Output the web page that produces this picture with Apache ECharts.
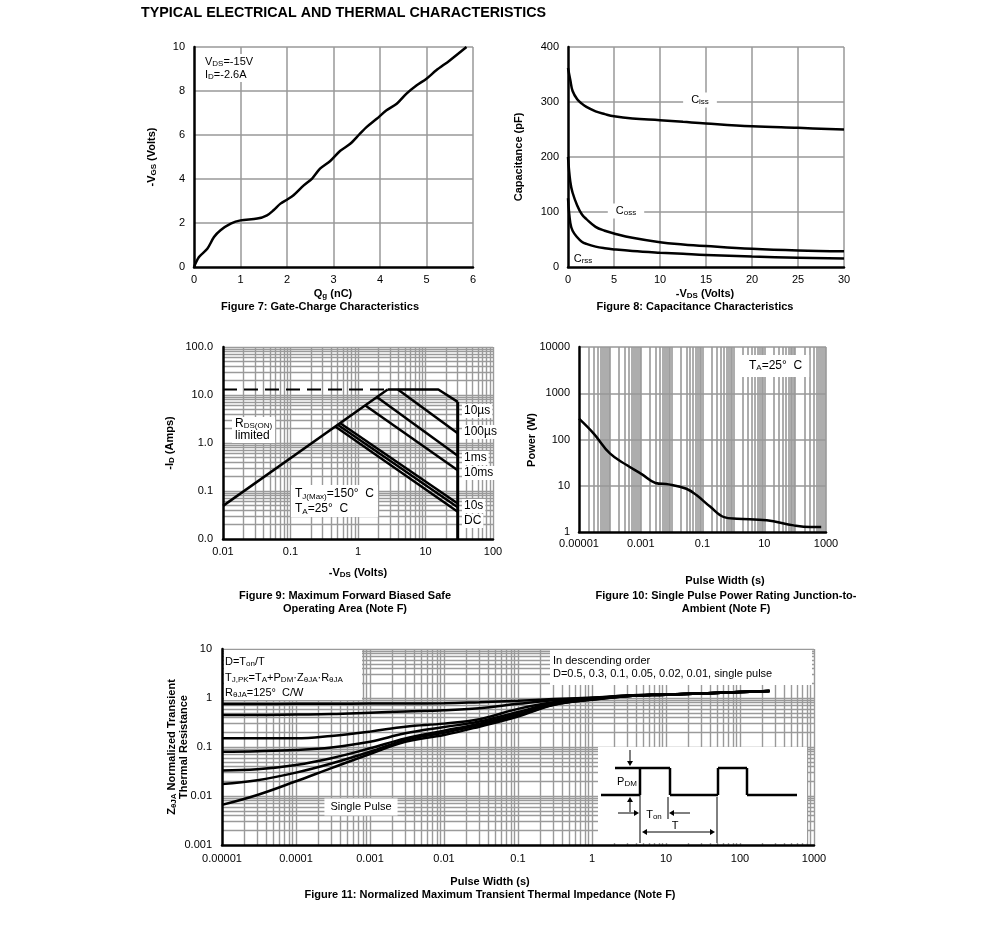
<!DOCTYPE html>
<html><head><meta charset="utf-8">
<script src="https://cdn.jsdelivr.net/npm/echarts@6/dist/echarts.min.js"></script>
<style>html,body{margin:0;padding:0;background:#fff}#c{width:991px;height:933px}</style>
</head><body><div id="c"></div>
<script>
// ---------- Figure 7: gate charge ----------
const fig7Qg = [0,0.107,0.286,0.43,0.57,0.79,1.0,1.36,1.57,1.71,1.86,2.0,2.14,2.36,2.54,2.71,2.93,3.14,3.36,3.57,3.71,3.93,4.14,4.36,4.57,4.79,5.0,5.21,5.5,5.86];
const fig7Vgs = [0,0.45,0.83,1.36,1.67,1.97,2.12,2.2,2.35,2.58,2.88,3.06,3.26,3.71,4.02,4.47,4.82,5.27,5.6,6.06,6.36,6.74,7.12,7.42,7.88,8.26,8.56,8.94,9.39,10];
// ---------- Figure 8: capacitance ----------
const fig8Vds  = [0,0.25,0.5,1,1.5,2,3,4,5,7,10,12.5,15,20,25,30];
const fig8Ciss = [362,340,320,305,297,291,283,278,274,270,267,264,261,256,253,250];
const fig8Coss = [200,155,135,112,96,87,73,66,61,53,45,41,38,33,30,28.5];
const fig8Crss = [125,80,66,54,46,42,37,34,32,29,26,24,22,19,17,15.5];
// ---------- Figure 9: SOA ----------
const fig9Rds     = [[0.01,0.049],[2.75,13]];
const fig9Dashed  = [[0.01,13],[2.75,13]];
const fig9_10us   = [[2.75,13],[15.5,13],[30,7.2]];
const fig9_100us  = [[3.9,13],[30,1.6]];
const fig9_1ms    = [[1.9,9.1],[30,0.54]];
const fig9_10ms   = [[1.27,6.1],[30,0.27]];
const fig9_1s     = [[0.54,2.6],[30,0.055]];
const fig9_10s    = [[0.5,2.4],[30,0.046]];
const fig9_DC     = [[0.46,2.2],[30,0.037]];
const fig9Vmax    = [[30,7.2],[30,0.01]];
const fig9XLabels = ['0.01','0.1','1','10','100'];
const fig9YLabels = ['0.0','0.1','1.0','10.0','100.0'];
// ---------- Figure 10: single pulse power ----------
const fig10T = [1e-5,3e-5,1e-4,3.5e-4,1.1e-3,3e-3,8e-3,0.03,0.065,0.18,0.5,1.3,12,90,300,700];
const fig10P = [282,134,50,28,17.6,11.5,10.7,8.6,6.2,3.5,2.1,1.94,1.79,1.39,1.28,1.28];
const fig10XLabels = ['0.00001','','0.001','','0.1','','10','','1000'];
const fig10YLabels = ['1','10','100','1000','10000'];
// ---------- Figure 11: transient thermal impedance ----------
const fig11T = [1e-5,3e-5,1e-4,3e-4,1e-3,3e-3,1e-2,3e-2,0.1,0.3,1,3,10,30,100,250];
const fig11D05  = [0.755,0.755,0.76,0.765,0.77,0.775,0.78,0.82,0.88,0.95,1.02,1.12,1.18,1.24,1.32,1.39];
const fig11D03  = [0.45,0.45,0.46,0.47,0.5,0.53,0.56,0.62,0.76,0.9,1.0,1.12,1.18,1.24,1.32,1.39];
const fig11D01  = [0.15,0.15,0.15,0.168,0.206,0.26,0.3,0.37,0.6,0.82,0.97,1.11,1.18,1.24,1.32,1.39];
const fig11D005 = [0.08,0.082,0.087,0.098,0.128,0.19,0.255,0.33,0.52,0.78,0.95,1.1,1.17,1.24,1.32,1.39];
const fig11D002 = [0.033,0.035,0.043,0.059,0.094,0.15,0.215,0.3,0.47,0.75,0.94,1.1,1.17,1.24,1.32,1.39];
const fig11D001 = [0.0176,0.021,0.03,0.046,0.08,0.14,0.196,0.28,0.44,0.73,0.93,1.09,1.17,1.24,1.32,1.39];
const fig11Single = [0.0066,0.0105,0.02,0.037,0.072,0.128,0.176,0.26,0.42,0.72,0.92,1.09,1.17,1.24,1.32,1.39];
const fig11XLabels = ['0.00001','0.0001','0.001','0.01','0.1','1','10','100','1000'];
const fig11YLabels = ['0.001','0.01','0.1','1','10'];

const F = '"Liberation Sans", Arial, Helvetica, sans-serif';
const GRAY = '#999';
const zip = (a,b) => a.map((v,i)=>[v,b[i]]);
const ex = v => Math.round(Math.log10(v));

function curve(idx, data, extra) {
  return Object.assign({type:'line', xAxisIndex:idx, yAxisIndex:idx, data:data, symbol:'none', showSymbol:false,
    lineStyle:{color:'#000', width:2.5}, z:3, animation:false, silent:true}, extra||{});
}
function gridLines(axis, lo, hi, minor, skipFirst) {
  const out = [];
  if (!skipFirst) out.push({[axis]: Math.pow(10, lo)});
  for (let e = lo; e < hi; e++) {
    const b = Math.pow(10, e);
    if (minor) for (let k = 2; k <= 9; k++) out.push({[axis]: +(k*b).toPrecision(6)});
    out.push({[axis]: +Math.pow(10, e+1).toPrecision(6)});
  }
  return out;
}
function gridSeries(idx, pt, lines, width, color) {
  return {type:'line', xAxisIndex:idx, yAxisIndex:idx, data:[pt], symbol:'none', showSymbol:false,
    lineStyle:{opacity:0}, z:1, silent:true, animation:false,
    markLine:{z:1, precision:15, silent:true, symbol:['none','none'], label:{show:false}, animation:false,
      lineStyle:{color:color||GRAY, width:width||1, type:'solid'}, emphasis:{disabled:true}, data:lines}};
}
const lbl = (m, fmt) => Object.assign({color:'#000', fontSize:11, fontFamily:F, margin:m}, fmt ? {formatter:fmt} : {});
const axLine = {show:true, lineStyle:{color:'#000', width:2.5}};

function valAxis(idx, min, max, interval, m) {
  return {gridIndex:idx, type:'value', min, max, interval, axisLine:axLine, axisTick:{show:false},
    splitLine:{show:true, showMinLine:false, lineStyle:{color:GRAY, width:1.5}}, axisLabel:lbl(m)};
}
function logAxis(idx, min, max, split, m, labels, lo) {
  return {gridIndex:idx, type:'log', logBase:10, min, max, splitNumber:split, z:2,
    axisLine:axLine, axisTick:{show:false}, splitLine:{show:false},
    axisLabel:lbl(m, v => labels[ex(v) - lo] || '')};
}

const RICH = {
  n:{fontSize:11, fontFamily:F, fill:'#000'},
  s:{fontSize:8, fontFamily:F, fill:'#000', lineHeight:6, verticalAlign:'bottom'},
  b:{fontSize:11, fontFamily:F, fontWeight:'bold', fill:'#000'},
  bs:{fontSize:8, fontFamily:F, fontWeight:'bold', fill:'#000', lineHeight:6, verticalAlign:'bottom'},
  m:{fontSize:12, fontFamily:F, fill:'#000'}
};
function T(x, y, text, o) {
  o = o || {};
  const st = {text:text, rich:RICH, fontSize:o.size||11, fontFamily:F, fontWeight:o.bold?'bold':'normal', fill:'#000',
    align:o.align||'center', verticalAlign:o.va||'middle'};
  if (o.bg) { st.backgroundColor = '#fff'; st.padding = o.pad || [2,4]; }
  if (o.lh) st.lineHeight = o.lh;
  return {type:'text', x:x, y:y, rotation:o.rot||0, z:100, silent:true, style:st};
}
function L(x1,y1,x2,y2,w) { return {type:'line', z:110, silent:true, shape:{x1,y1,x2,y2}, style:{stroke:'#000', lineWidth:w||1}}; }
function P(pts) { return {type:'polygon', z:110, silent:true, shape:{points:pts}, style:{fill:'#000'}}; }
function R(x,y,w,h) { return {type:'rect', z:90, silent:true, shape:{x,y,width:w,height:h}, style:{fill:'#fff'}}; }

const graphics = [
  T(141, 13, 'TYPICAL ELECTRICAL AND THERMAL CHARACTERISTICS', {size:14.3, bold:true, align:'left'}),
  // Fig 7
  T(152, 157, '{b|-V}{bs|GS}{b| (Volts)}', {rot:Math.PI/2}),
  T(333, 294, '{b|Q}{bs|g}{b| (nC)}'),
  T(320, 307, 'Figure 7: Gate-Charge Characteristics', {bold:true}),
  T(202, 54, '{n|V}{s|DS}{n|=-15V}\n{n|I}{s|D}{n|=-2.6A}', {align:'left', va:'top', bg:true, pad:[1,3], lh:13}),
  // Fig 8
  T(519, 157, 'Capacitance (pF)', {bold:true, rot:Math.PI/2}),
  T(705, 294, '{b|-V}{bs|DS}{b| (Volts)}'),
  T(695, 307, 'Figure 8: Capacitance Characteristics', {bold:true}),
  T(700, 100, '{n|C}{s|iss}', {bg:true, pad:[2,8]}),
  T(626, 211, '{n|C}{s|oss}', {bg:true, pad:[2,8]}),
  T(583, 259, '{n|C}{s|rss}'),
  // Fig 9
  T(170, 443, '{b|-I}{bs|D}{b| (Amps)}', {rot:Math.PI/2}),
  T(358, 573, '{b|-V}{bs|DS}{b| (Volts)}'),
  T(345, 596, 'Figure 9: Maximum Forward Biased Safe', {bold:true}),
  T(345, 609, 'Operating Area (Note F)', {bold:true}),
  T(232, 417, '{m|R}{s|DS(ON)}\n{m|limited}', {align:'left', va:'top', bg:true, pad:[1,3], lh:12}),
  T(291, 485, '{m|T}{s|J(Max)}{m|=150°  C}\n{m|T}{s|A}{m|=25°  C}', {align:'left', va:'top', bg:true, pad:[1,4], lh:15}),
  T(462, 411, '10µs', {size:12, align:'left', bg:true, pad:[1,2]}),
  T(462, 432, '100µs', {size:12, align:'left', bg:true, pad:[1,2]}),
  T(462, 458, '1ms', {size:12, align:'left', bg:true, pad:[1,2]}),
  T(462, 473, '10ms', {size:12, align:'left', bg:true, pad:[1,2]}),
  T(462, 506, '10s', {size:12, align:'left', bg:true, pad:[1,2]}),
  T(462, 521, 'DC', {size:12, align:'left', bg:true, pad:[1,2]}),
  // Fig 10
  T(532, 440, 'Power (W)', {bold:true, rot:Math.PI/2}),
  T(725, 581, 'Pulse Width (s)', {bold:true}),
  T(726, 596, 'Figure 10: Single Pulse Power Rating Junction-to-', {bold:true}),
  T(726, 609, 'Ambient (Note F)', {bold:true}),
  T(742, 366, '{m|T}{s|A}{m|=25°  C}', {align:'left', bg:true, pad:[5,7]}),
  // Fig 11
  T(172, 747, '{b|Z}{bs|θJA}{b| Normalized Transient}', {rot:Math.PI/2}),
  T(184, 747, 'Thermal Resistance', {bold:true, rot:Math.PI/2}),
  T(490, 882, 'Pulse Width (s)', {bold:true}),
  T(490, 895, 'Figure 11: Normalized Maximum Transient Thermal Impedance (Note F)', {bold:true}),
  R(224, 650, 138, 50),
  T(225, 662, '{n|D=T}{s|on}{n|/T}', {align:'left'}),
  T(225, 678, '{n|T}{s|J,PK}{n|=T}{s|A}{n|+P}{s|DM}{n|·Z}{s|θJA}{n|·R}{s|θJA}', {align:'left'}),
  T(225, 693, '{n|R}{s|θJA}{n|=125°  C/W}', {align:'left'}),
  R(550, 650, 262, 35),
  T(553, 661, 'In descending order', {align:'left'}),
  T(553, 674, 'D=0.5, 0.3, 0.1, 0.05, 0.02, 0.01, single pulse', {align:'left'}),
  T(361, 807, 'Single Pulse', {bg:true, pad:[3,6]}),
  // inset
  R(598, 747, 209, 96),
  L(601,795,640,795,2.5), L(615,768,670,768,2.5), L(640,795,640,768,2.5), L(670,768,670,795,2.5),
  L(670,795,718,795,2.5), L(718,795,718,768,2.5), L(718,768,747,768,2.5), L(747,768,747,795,2.5), L(747,795,797,795,2.5),
  L(630,750,630,762), P([[627,761],[633,761],[630,766]]),
  L(630,812,630,801), P([[627,802],[633,802],[630,797]]),
  L(640,795,640,843), L(668,797,668,819), L(717,797,717,843),
  L(618,813,635,813), P([[634,810],[634,816],[639,813]]),
  L(690,813,673,813), P([[674,810],[674,816],[669,813]]),
  L(646,832,711,832), P([[647,829],[647,835],[642,832]]), P([[710,829],[710,835],[715,832]]),
  T(627, 782, '{n|P}{s|DM}'),
  T(654, 815, '{n|T}{s|on}'),
  T(675, 826, 'T')
];

const option = {
  backgroundColor:'#fff',
  animation:false,
  grid:[
    {left:194, top:47, width:279, height:220, outerBoundsMode:'none'},
    {left:568, top:47, width:276, height:220, outerBoundsMode:'none'},
    {left:223, top:347, width:270, height:192, outerBoundsMode:'none'},
    {left:579, top:347, width:247, height:185, outerBoundsMode:'none'},
    {left:222, top:649, width:592, height:196, outerBoundsMode:'none'}
  ],
  xAxis:[
    valAxis(0, 0, 6, 1, 7),
    valAxis(1, 0, 30, 5, 7),
    logAxis(2, 0.01, 100, 4, 7, fig9XLabels, -2),
    logAxis(3, 1e-5, 1000, 8, 6, fig10XLabels, -5),
    logAxis(4, 1e-5, 1000, 8, 8, fig11XLabels, -5)
  ],
  yAxis:[
    valAxis(0, 0, 10, 2, 9),
    valAxis(1, 0, 400, 100, 9),
    logAxis(2, 0.01, 100, 4, 10, fig9YLabels, -2),
    logAxis(3, 1, 10000, 4, 9, fig10YLabels, 0),
    logAxis(4, 0.001, 10, 4, 10, fig11YLabels, -3)
  ],
  graphic:{elements:graphics},
  series:[
    curve(0, zip(fig7Qg, fig7Vgs), {smooth:0.3}),
    curve(1, zip(fig8Vds, fig8Ciss), {smooth:0.4}),
    curve(1, zip(fig8Vds, fig8Coss), {smooth:0.4}),
    curve(1, zip(fig8Vds, fig8Crss), {smooth:0.4}),
    gridSeries(2, [0.01,0.01], gridLines('xAxis',-2,2,true,true).concat(gridLines('yAxis',-2,2,true,true)), 1.4, '#9a9a9a'),
    curve(2, fig9Rds), curve(2, fig9Dashed, {lineStyle:{color:'#000', width:2, type:[14,7]}}),
    curve(2, fig9_10us), curve(2, fig9_100us), curve(2, fig9_1ms), curve(2, fig9_10ms),
    curve(2, fig9_1s), curve(2, fig9_10s), curve(2, fig9_DC), curve(2, fig9Vmax, {lineStyle:{color:'#000', width:3}}),
    gridSeries(3, [1e-5,1], gridLines('xAxis',-5,3,true,true).concat(gridLines('yAxis',0,4,false,true)), 1.6, '#999'),
    curve(3, zip(fig10T, fig10P), {smooth:0.4}),
    gridSeries(4, [1e-5,0.001], gridLines('xAxis',-5,3,true,true).concat(gridLines('yAxis',-3,1,true,true)), 1.4, '#9a9a9a'),
    curve(4, zip(fig11T, fig11D05), {smooth:0.4}),
    curve(4, zip(fig11T, fig11D03), {smooth:0.4}),
    curve(4, zip(fig11T, fig11D01), {smooth:0.4}),
    curve(4, zip(fig11T, fig11D005), {smooth:0.4}),
    curve(4, zip(fig11T, fig11D002), {smooth:0.4}),
    curve(4, zip(fig11T, fig11D001), {smooth:0.4}),
    curve(4, zip(fig11T, fig11Single), {smooth:0.4})
  ]
};
const chart = echarts.init(document.getElementById('c'), null, {renderer:'canvas'});
chart.setOption(option);
</script></body></html>
